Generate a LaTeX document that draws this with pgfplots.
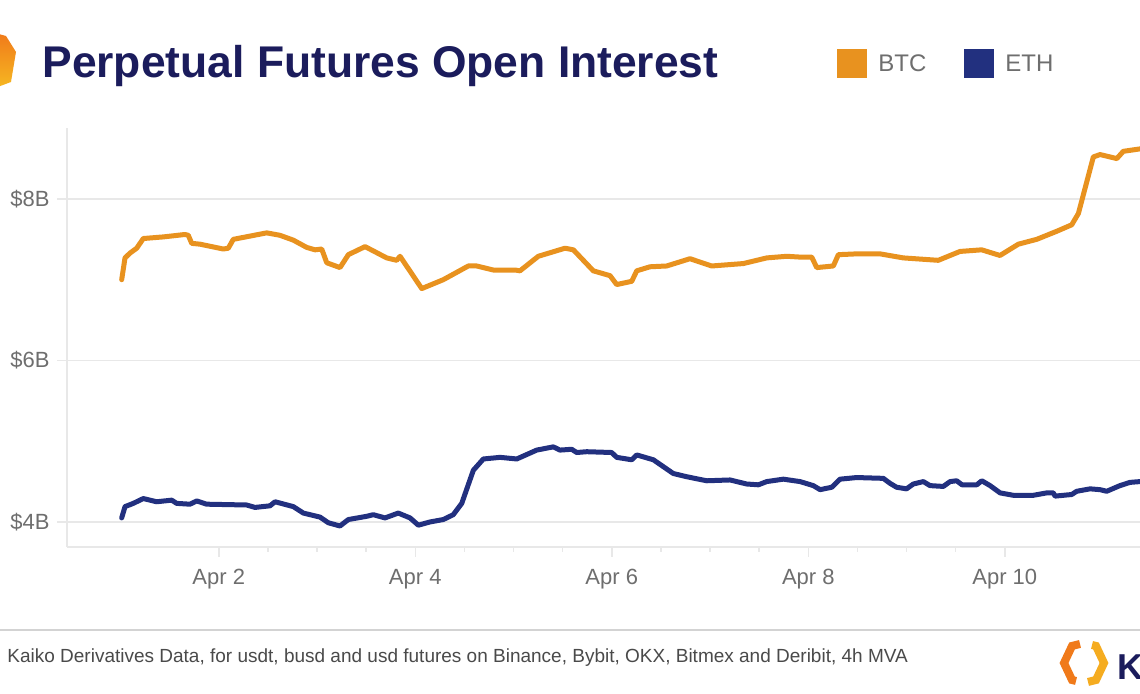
\documentclass[border=0pt]{standalone}
\usepackage{pgfplots}
\pgfplotsset{compat=1.18}
\usepackage{fontspec}
\setmainfont{Liberation Sans}
\definecolor{btc}{HTML}{E8921F}
\definecolor{eth}{HTML}{22307F}
\definecolor{titlec}{HTML}{1B1C5C}
\definecolor{tickc}{HTML}{6E6E6E}
\definecolor{gridc}{HTML}{E8E8E8}
\definecolor{footc}{HTML}{4A4A4A}
\definecolor{logoor}{HTML}{F07A1A}
\definecolor{logoye}{HTML}{F6B822}

\pgfplotstableread{
d v
1.012 7.00
1.046 7.27
1.097 7.33
1.165 7.39
1.232 7.51
1.436 7.53
1.656 7.56
1.690 7.55
1.725 7.45
1.809 7.44
2.046 7.38
2.097 7.39
2.148 7.50
2.488 7.58
2.623 7.55
2.759 7.49
2.895 7.40
2.980 7.37
3.048 7.38
3.099 7.21
3.234 7.15
3.319 7.31
3.489 7.41
3.709 7.27
3.811 7.24
3.845 7.29
4.066 6.89
4.285 7.00
4.540 7.17
4.625 7.17
4.794 7.12
5.015 7.12
5.066 7.11
5.252 7.29
5.524 7.39
5.609 7.37
5.812 7.11
5.982 7.05
6.050 6.94
6.203 6.98
6.254 7.11
6.389 7.16
6.559 7.17
6.796 7.26
7.017 7.17
7.339 7.20
7.577 7.27
7.781 7.29
7.916 7.28
8.035 7.28
8.086 7.15
8.255 7.17
8.306 7.31
8.493 7.32
8.730 7.32
8.967 7.27
9.323 7.24
9.544 7.35
9.765 7.37
9.951 7.30
10.138 7.44
10.325 7.50
10.529 7.60
10.681 7.68
10.749 7.82
10.901 8.52
10.969 8.55
11.140 8.50
11.206 8.59
11.376 8.62
}\btcdata

\pgfplotstableread{
d v
1.012 4.05
1.046 4.19
1.130 4.23
1.232 4.29
1.368 4.25
1.521 4.27
1.572 4.23
1.707 4.22
1.776 4.26
1.877 4.22
2.284 4.21
2.369 4.18
2.522 4.20
2.573 4.25
2.759 4.19
2.861 4.11
3.031 4.06
3.115 3.99
3.234 3.95
3.319 4.03
3.506 4.07
3.573 4.09
3.692 4.05
3.827 4.11
3.947 4.05
4.031 3.96
4.150 4.00
4.285 4.03
4.387 4.09
4.473 4.23
4.591 4.64
4.693 4.78
4.863 4.80
5.033 4.78
5.236 4.89
5.405 4.93
5.473 4.89
5.592 4.90
5.643 4.86
5.745 4.87
5.999 4.86
6.050 4.80
6.203 4.77
6.254 4.83
6.423 4.77
6.626 4.60
6.763 4.56
6.966 4.51
7.204 4.52
7.373 4.47
7.492 4.46
7.577 4.50
7.746 4.53
7.916 4.50
8.051 4.45
8.120 4.40
8.239 4.43
8.323 4.53
8.493 4.55
8.764 4.54
8.830 4.48
8.898 4.43
9.000 4.41
9.069 4.47
9.171 4.50
9.239 4.45
9.374 4.44
9.443 4.50
9.510 4.51
9.565 4.46
9.715 4.46
9.766 4.51
9.850 4.45
9.952 4.36
10.087 4.33
10.290 4.33
10.427 4.36
10.494 4.36
10.511 4.32
10.681 4.34
10.732 4.38
10.868 4.41
10.969 4.40
11.037 4.38
11.172 4.45
11.274 4.49
11.376 4.50
}\ethdata

\begin{document}
\begin{tikzpicture}
\useasboundingbox (0,0) rectangle (570pt,347pt);
\fill[white] (0,0) rectangle (570pt,347pt);
\begin{scope}[x=0.5pt,y=0.5pt]
  % top-left logo (partially cut)
  \shade[top color=logoor, bottom color=logoye] (-5,661) -- (6,658) -- (16,642) -- (11,612) -- (-5,606) -- cycle;
  % title
  \node[anchor=base west, inner sep=0, text=titlec, font=\fontsize{22.2pt}{26pt}\selectfont\bfseries] at (42,616) {Perpetual Futures Open Interest};
  % legend
  \fill[btc] (837,616) rectangle (867,645);
  \node[anchor=base west, inner sep=0, text=tickc, font=\fontsize{12pt}{14pt}\selectfont] at (878,622) {BTC};
  \fill[eth] (964,616) rectangle (994,645);
  \node[anchor=base west, inner sep=0, text=tickc, font=\fontsize{12pt}{14pt}\selectfont] at (1005,622) {ETH};
  % separator
  \draw[gridc!80!gray, line width=1pt] (0,64) -- (1140,64);
  % footer
  \node[anchor=base west, inner sep=0, text=footc, font=\fontsize{9.5pt}{11pt}\selectfont] at (7,31) {Kaiko Derivatives Data, for usdt, busd and usd futures on Binance, Bybit, OKX, Bitmex and Deribit, 4h MVA};
  % bottom-right logo
  \draw[logoor, line width=4pt, line join=miter] (1080,50) -- (1072,48) -- (1064,31) -- (1072,14) -- (1076,13);
  \draw[logoye!80!logoor, line width=4pt, line join=miter] (1088,12) -- (1096,14) -- (1104,31) -- (1096,48) -- (1092,49);
  \node[anchor=base west, inner sep=0, text=titlec, font=\fontsize{18pt}{20pt}\selectfont\bfseries] at (1117,14) {K};
\end{scope}
\begin{axis}[
  at={(33.5pt,73.5pt)}, anchor=south west,
  scale only axis, width=536.5pt, height=209.5pt,
  xmin=0.4555, xmax=11.376, ymin=3.690, ymax=8.879,
  axis x line*=bottom, axis y line*=left,
  axis line style={-, draw=gridc, line width=0.75pt},
  xtick={2,4,6,8,10},
  xticklabels={Apr 2,Apr 4,Apr 6,Apr 8,Apr 10},
  ytick={4,6,8},
  yticklabels={\$4B,\$6B,\$8B},
  minor x tick num=3,
  tick align=outside,
  major tick length=5pt, minor tick length=2.5pt,
  tick style={draw=gridc, line width=0.75pt},
  ymajorgrids, major grid style={draw=gridc, line width=0.75pt},
  tick label style={text=tickc, font=\fontsize{11pt}{13pt}\selectfont},
  xticklabel style={anchor=north, inner sep=0, yshift=-6pt},
  yticklabel style={anchor=east, inner sep=0, xshift=-3.5pt},
  clip=true,
]
\addplot[btc, line width=2.5pt, line join=round, line cap=round] table[x=d, y=v] {\btcdata};
\addplot[eth, line width=2.5pt, line join=round, line cap=round] table[x=d, y=v] {\ethdata};
\end{axis}
\end{tikzpicture}
\end{document}
